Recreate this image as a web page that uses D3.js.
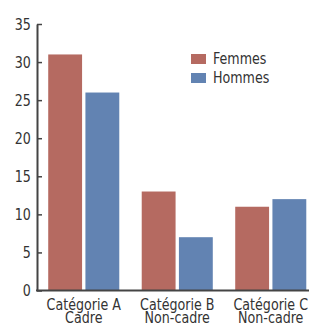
<!DOCTYPE html>
<html>
<head>
<meta charset="utf-8">
<script src="https://cdn.jsdelivr.net/npm/d3@7"></script>
<style>
  body { margin: 0; background: #fff; }
  text { font-family: "DejaVu Sans Condensed", "Liberation Sans Narrow", sans-serif; fill: #333; }
</style>
</head>
<body>
<div id="chart"></div>
<script>
const categories = [["Catégorie A", "Cadre"], ["Catégorie B", "Non-cadre"], ["Catégorie C", "Non-cadre"]];
const seriesNames = ["Femmes", "Hommes"];
const femmes = [31, 13, 11];
const hommes = [26, 7, 12];
const yTicks = [0, 5, 10, 15, 20, 25, 30, 35];
const colors = ["#b56a61", "#6283b2"];

const width = 309, height = 325;
const margin = { top: 24, left: 37, bottom: 35 };
const squeeze = 0.88; // reference font is a narrow one
const svg = d3.select("#chart").append("svg")
  .attr("width", width).attr("height", height);

const x = d3.scaleBand()
  .domain(d3.range(categories.length))
  .range([margin.left, 317.5])
  .paddingInner(0.24)
  .paddingOuter(0.12);

const xInner = d3.scaleBand()
  .domain(d3.range(seriesNames.length))
  .range([0, x.bandwidth()])
  .paddingInner(0.09);

const y = d3.scaleLinear()
  .domain([0, 35])
  .range([height - margin.bottom + 0.5, margin.top]);

const rows = categories.map((c, i) => [femmes[i], hommes[i]]);

const groups = svg.append("g").selectAll("g")
  .data(rows)
  .join("g")
  .attr("transform", (d, i) => `translate(${x(i)},0)`);

groups.selectAll("rect")
  .data(d => d)
  .join("rect")
  .attr("x", (d, j) => xInner(j))
  .attr("width", xInner.bandwidth())
  .attr("y", d => y(d))
  .attr("height", d => y(0) - y(d))
  .attr("fill", (d, j) => colors[j]);

// y axis
const yAxis = svg.append("g")
  .attr("transform", `translate(${margin.left},0)`)
  .call(d3.axisLeft(y).tickValues(yTicks).tickSizeInner(-5).tickSizeOuter(0).tickPadding(7));
yAxis.select(".domain").attr("stroke", "#444").attr("stroke-width", 2);
yAxis.selectAll(".tick line").attr("stroke", "#444").attr("stroke-width", 1.5);
yAxis.selectAll(".tick text")
  .style("font-size", "16px")
  .attr("font-family", null)
  .attr("fill", "#333")
  .attr("transform", `scale(${squeeze},1)`);

// x baseline
svg.append("line")
  .attr("x1", margin.left - 1).attr("x2", width)
  .attr("y1", y(0)).attr("y2", y(0))
  .attr("stroke", "#444").attr("stroke-width", 2);

// x labels
const labels = svg.append("g").selectAll("g")
  .data(categories)
  .join("g")
  .attr("transform", (d, i) => `translate(${x(i) + x.bandwidth() / 2},310) scale(${squeeze},1)`)
  .append("text")
  .attr("text-anchor", "middle")
  .style("font-size", "16px");
labels.append("tspan").attr("x", 0).text(d => d[0]);
labels.append("tspan").attr("x", 0).attr("dy", 12.5).text(d => d[1]);

// legend
const legend = svg.append("g").attr("transform", "translate(191,54)");
const item = legend.selectAll("g")
  .data(seriesNames)
  .join("g")
  .attr("transform", (d, i) => `translate(0,${i * 19})`);
item.append("rect").attr("width", 15).attr("height", 10).attr("fill", (d, i) => colors[i]);
item.append("text")
  .attr("transform", `translate(22,10) scale(${squeeze},1)`)
  .style("font-size", "16px")
  .text(d => d);
</script>
</body>
</html>
